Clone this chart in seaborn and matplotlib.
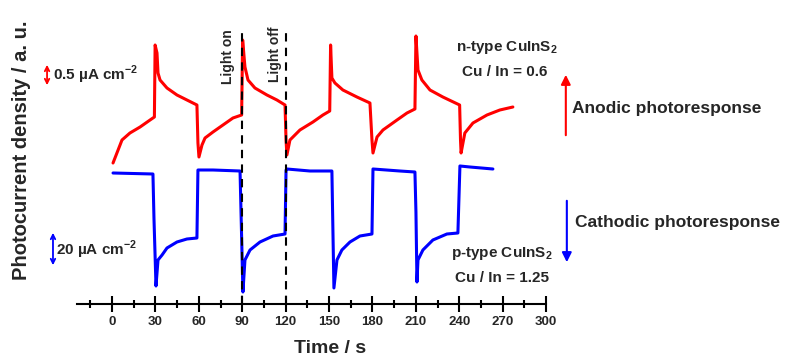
import numpy as np
import pandas as pd
import matplotlib
matplotlib.use("Agg")
import matplotlib.pyplot as plt
import seaborn as sns

# n-type (anodic) transient, time in s, current in a.u.
red_t = [0.7, 6.9, 12.4, 19.4, 26.3, 29.3, 29.8, 31.1, 31.8, 33.2, 38.0, 44.9, 51.8, 58.7, 59.4, 60.1,
         62.2, 64.3, 69.8, 76.7, 83.6, 89.6, 90.3, 91.9, 94.0, 98.8, 107.1, 114.0, 119.6, 120.3, 120.9,
         123.0, 129.9, 138.9, 145.8, 150.5, 151.1, 152.0, 154.1, 159.6, 169.3, 178.3, 179.7, 180.4,
         183.2, 187.3, 197.0, 203.9, 209.4, 210.1, 211.5, 214.2, 219.8, 228.7, 240.3, 240.9, 241.3,
         243.9, 249.5, 259.2, 268.1, 277.1]
red_i = [141, 164, 171, 177, 184, 187, 259, 251, 231, 224, 216, 209, 204, 199, 161, 147,
         159, 166, 172, 179, 186, 189, 264, 237, 224, 216, 209, 204, 199, 164, 149,
         164, 174, 182, 189, 193, 259, 226, 221, 214, 207, 201, 164, 151,
         167, 174, 184, 191, 195, 268, 234, 224, 214, 207, 199, 164, 151,
         171, 181, 189, 194, 197]

# p-type (cathodic) transient
blue_t = [0.7, 28.3, 29.0, 30.4, 31.8, 34.6, 38.0, 44.9, 51.8, 58.7, 59.4, 69.8, 88.5, 90.5, 91.9,
          95.4, 102.3, 111.3, 119.6, 120.3, 120.9, 136.8, 152.0, 152.7, 153.4, 155.5, 158.9, 164.5,
          171.4, 179.7, 180.4, 199.0, 209.4, 210.1, 210.8, 211.5, 214.9, 221.8, 231.5, 239.1, 240.5,
          247.4, 263.3]
blue_i = [131, 130, 86, 18, 44, 49, 56, 62, 65, 66, 134, 134, 133, 12, 44,
          54, 62, 68, 70, 134, 135, 133, 133, 74, 16, 44, 54, 62,
          68, 70, 135, 133, 132, 92, 22, 44, 54, 64, 70, 71, 138,
          137, 135]

light_lines = [90, 120]
x_ticks = list(range(0, 301, 30))

sns.set_style("white")
plt.rcParams['font.family'] = ['Liberation Sans', 'DejaVu Sans']
plt.rcParams['mathtext.fontset'] = 'custom'
plt.rcParams['mathtext.rm'] = 'Liberation Sans'
plt.rcParams['mathtext.bf'] = 'Liberation Sans:bold'

fig = plt.figure(figsize=(7.98, 3.56), dpi=100)
ax = fig.add_axes([77 / 798, 52 / 356, 469 / 798, 304 / 356])

red_df = pd.DataFrame({"t": red_t, "i": red_i})
blue_df = pd.DataFrame({"t": blue_t, "i": blue_i})
sns.lineplot(data=red_df, x="t", y="i", sort=False, estimator=None, color="#ff0000", lw=2.2, ax=ax)
sns.lineplot(data=blue_df, x="t", y="i", sort=False, estimator=None, color="#0000ff", lw=2.2, ax=ax)

for xl in light_lines:
    ax.plot([xl, xl], [0, 272], color="black", ls=(0, (4, 3)), lw=1.5, zorder=3)

ax.set_xlim(-24.2, 300)
ax.set_ylim(0, 304)
for s in ["left", "top", "right"]:
    ax.spines[s].set_visible(False)
ax.spines["bottom"].set_linewidth(1.5)
ax.spines["bottom"].set_color("black")
ax.set_yticks([])
ax.set_xticks(x_ticks)
ax.set_xticks(list(range(-15, 300, 30)), minor=True)
ax.tick_params(axis="x", which="major", bottom=True, direction="inout", length=11, width=1.5,
               color="black", labelsize=9.5, pad=3)
ax.tick_params(axis="x", which="minor", bottom=True, direction="inout", length=6, width=1.5, color="black")
for lab in ax.get_xticklabels():
    lab.set_fontweight("bold")
ax.set_xlabel("Time / s", fontsize=14, fontweight="bold")
ax.xaxis.set_label_coords(0.54, -0.12)
ax.set_ylabel("")
fig.text(22 / 798, 1 - 150 / 356, "Photocurrent density / a. u.", rotation=90, fontsize=14.5,
         fontweight="bold", ha="center", va="center")

# light on / off labels
ax.text(80, 247, "Light on", rotation=90, fontsize=10, fontweight="bold", ha="center", va="center")
ax.text(112.6, 250, "Light off", rotation=90, fontsize=10, fontweight="bold", ha="center", va="center")

# scale bars
ax.annotate("", xy=(-44.9, 242), xytext=(-44.9, 216), annotation_clip=False,
            arrowprops=dict(arrowstyle="<->", color="#ff0000", lw=1.3, mutation_scale=8))
ax.text(-40.8, 229, "0.5 µA cm$^{\\mathbf{-2}}$", fontsize=11, fontweight="bold", va="center", clip_on=False)
ax.annotate("", xy=(-40.8, 74), xytext=(-40.8, 36), annotation_clip=False,
            arrowprops=dict(arrowstyle="<->", color="#0000ff", lw=1.3, mutation_scale=8))
ax.text(-38.7, 54, "20 µA cm$^{\\mathbf{-2}}$", fontsize=11, fontweight="bold", va="center", clip_on=False)

# sample labels
ax.text(273, 256, "n-type CuInS$_{\\mathbf{2}}$", fontsize=11, fontweight="bold", ha="center", va="center", clip_on=False)
ax.text(271.6, 232, "Cu / In = 0.6", fontsize=11, fontweight="bold", ha="center", va="center", clip_on=False)
ax.text(269.5, 51, "p-type CuInS$_{\\mathbf{2}}$", fontsize=11, fontweight="bold", ha="center", va="center", clip_on=False)
ax.text(269.5, 26, "Cu / In = 1.25", fontsize=11, fontweight="bold", ha="center", va="center", clip_on=False)

# photoresponse arrows
ax.annotate("", xy=(313.7, 232), xytext=(313.7, 166), annotation_clip=False,
            arrowprops=dict(arrowstyle="-|>", color="#ff0000", lw=1.5, mutation_scale=14))
ax.text(317.9, 196, "Anodic photoresponse", fontsize=12.5, fontweight="bold", va="center", clip_on=False)
ax.annotate("", xy=(314.4, 39), xytext=(314.4, 106), annotation_clip=False,
            arrowprops=dict(arrowstyle="-|>", color="#0000ff", lw=1.5, mutation_scale=14))
ax.text(320, 81, "Cathodic photoresponse", fontsize=12.5, fontweight="bold", va="center", clip_on=False)

fig.savefig("out.png", dpi=100)
